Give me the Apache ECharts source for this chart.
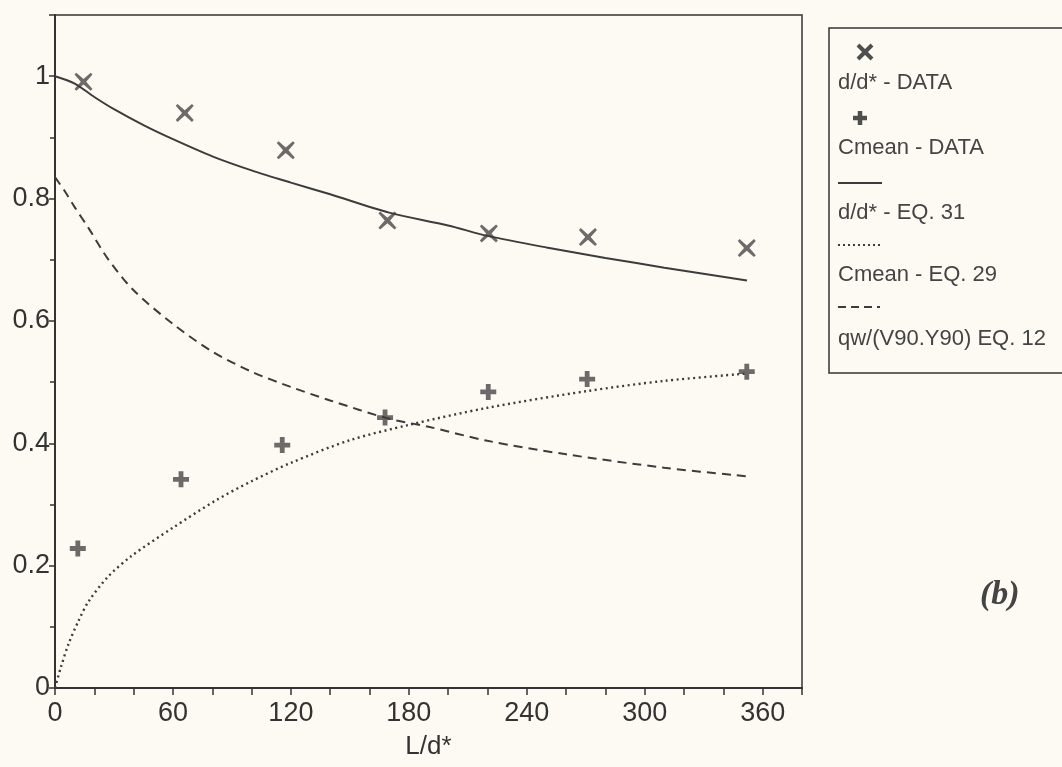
<!DOCTYPE html>
<html><head><meta charset="utf-8">
<script src="https://cdn.jsdelivr.net/npm/echarts@6/dist/echarts.min.js"></script>
<style>html,body{margin:0;padding:0;background:#fcfaf2}#c{width:1062px;height:767px}</style>
</head><body><div id="c"></div>
<script>
// ---- data ----
const ddDataX = [14.5, 66, 117.4, 169.1, 220.7, 271.1, 351.9];
const ddDataY = [0.991, 0.940, 0.879, 0.764, 0.743, 0.737, 0.719];
const cmDataX = [11.6, 64.1, 115.6, 167.9, 220.4, 270.7, 351.9];
const cmDataY = [0.228, 0.341, 0.397, 0.442, 0.484, 0.505, 0.517];
const eq31X = [0, 10, 20, 30, 45, 60, 80, 100, 120, 140, 170, 200, 220, 250, 280, 310, 352];
const eq31Y = [1.0, 0.988, 0.966, 0.946, 0.92, 0.897, 0.869, 0.846, 0.826, 0.807, 0.777, 0.756, 0.739, 0.72, 0.703, 0.687, 0.666];
const eq29X = [0, 3, 7, 12, 17, 27, 39, 60, 82, 100, 120, 150, 180, 220, 270, 310, 352];
const eq29Y = [0, 0.034, 0.073, 0.11, 0.141, 0.182, 0.216, 0.262, 0.307, 0.338, 0.368, 0.405, 0.43, 0.458, 0.485, 0.502, 0.514];
const eq12X = [0, 5, 10, 17, 27, 40, 60, 80, 100, 120, 140, 170, 190, 220, 260, 310, 352];
const eq12Y = [0.835, 0.812, 0.786, 0.752, 0.701, 0.65, 0.595, 0.55, 0.517, 0.492, 0.47, 0.44, 0.427, 0.404, 0.382, 0.36, 0.346];
const legendLabels = ['d/d* - DATA', 'Cmean - DATA', 'd/d* - EQ. 31', 'Cmean - EQ. 29', 'qw/(V90.Y90) EQ. 12'];
const xAxisName = 'L/d*';
const panelTag = '(b)';

const zip = (a, b) => a.map((v, i) => [v, b[i]]);
const INK = '#3c3c3c';
const FONT = '"Liberation Sans", Arial, sans-serif';
const X_MARK = 'path://M2,0 L10,7 L18,0 L20,2 L13,10 L20,18 L18,20 L10,13 L2,20 L0,18 L7,10 L0,2 Z';
const PLUS = 'path://M7,0 H13 V7 H20 V13 H13 V20 H7 V13 H0 V7 H7 Z';

const chart = echarts.init(document.getElementById('c'), null, {renderer: 'canvas'});

const legendTextY = [83, 148, 213, 275, 339];
const lx = 838;
const graphics = [
  {type: 'rect', shape: {x: 829, y: 28, width: 260, height: 345},
   style: {fill: 'none', stroke: '#333', lineWidth: 1.5}},
  // X glyph
  {type: 'line', shape: {x1: 858, y1: 45, x2: 872, y2: 59}, style: {stroke: '#4f4f4f', lineWidth: 4}},
  {type: 'line', shape: {x1: 872, y1: 45, x2: 858, y2: 59}, style: {stroke: '#4f4f4f', lineWidth: 4}},
  // plus glyph
  {type: 'line', shape: {x1: 853, y1: 118, x2: 867, y2: 118}, style: {stroke: '#4f4f4f', lineWidth: 4.5}},
  {type: 'line', shape: {x1: 860, y1: 111, x2: 860, y2: 125}, style: {stroke: '#4f4f4f', lineWidth: 4.5}},
  // line samples
  {type: 'line', shape: {x1: 838, y1: 183, x2: 882, y2: 183}, style: {stroke: INK, lineWidth: 2}},
  {type: 'line', shape: {x1: 838, y1: 245, x2: 883, y2: 245}, style: {stroke: INK, lineWidth: 2.2, lineDash: [2, 3]}},
  {type: 'line', shape: {x1: 838, y1: 307, x2: 880, y2: 307}, style: {stroke: INK, lineWidth: 2, lineDash: [8, 5]}},
  {type: 'text', x: 980, y: 595,
   style: {text: panelTag, font: 'italic bold 34px "Liberation Serif", "Times New Roman", serif',
           fill: '#444', textAlign: 'left', textVerticalAlign: 'middle'}}
];
legendLabels.forEach((t, i) => {
  graphics.push({type: 'text', x: lx, y: legendTextY[i],
    style: {text: t, font: '22px ' + FONT, fill: '#444', textAlign: 'left', textVerticalAlign: 'middle'}});
});

const fmtY = v => (v > 1.05 ? '' : String(Math.round(v * 10) / 10));
const fmtX = v => (v % 60 === 0 ? String(v) : '');

chart.setOption({
  backgroundColor: '#fcfaf2',
  animation: false,
  grid: {left: 55, right: 260, top: 15, bottom: 79, show: true,
         borderColor: '#333', borderWidth: 1.5, backgroundColor: 'transparent'},
  xAxis: [
    {type: 'value', min: 0, max: 380, interval: 60, position: 'bottom',
     name: xAxisName, nameLocation: 'middle', nameGap: 46,
     nameTextStyle: {fontSize: 26, color: '#333', fontFamily: FONT},
     axisLine: {show: true, lineStyle: {color: '#333', width: 2}},
     axisTick: {show: true, inside: false, length: 7, lineStyle: {color: '#333', width: 1.5}},
     axisLabel: {fontSize: 27, color: '#333', fontFamily: FONT, margin: 12, formatter: fmtX},
     splitLine: {show: false}},
    {type: 'value', min: 0, max: 380, interval: 20, position: 'bottom',
     axisLine: {show: false},
     axisTick: {show: true, length: 7, lineStyle: {color: '#333', width: 1.5}},
     axisLabel: {show: false}, splitLine: {show: false}}
  ],
  yAxis: [
    {type: 'value', min: 0, max: 1.1, interval: 0.2, position: 'left',
     axisLine: {show: true, lineStyle: {color: '#333', width: 2}},
     axisTick: {show: true, length: 6, lineStyle: {color: '#333', width: 1.5}},
     axisLabel: {fontSize: 27, color: '#333', fontFamily: FONT, margin: 5, formatter: fmtY},
     splitLine: {show: false}},
    {type: 'value', min: 0, max: 1.1, interval: 0.1, position: 'left',
     axisLine: {show: false},
     axisTick: {show: true, length: 5, lineStyle: {color: '#333', width: 1.5}},
     axisLabel: {show: false}, splitLine: {show: false}}
  ],
  series: [
    {name: legendLabels[2], type: 'line', data: zip(eq31X, eq31Y), showSymbol: false, smooth: 0.3,
     lineStyle: {color: INK, width: 2}},
    {name: legendLabels[3], type: 'line', data: zip(eq29X, eq29Y), showSymbol: false, smooth: 0.3,
     lineStyle: {color: INK, width: 2.4, type: [2, 3.5]}},
    {name: legendLabels[4], type: 'line', data: zip(eq12X, eq12Y), showSymbol: false, smooth: 0.3,
     lineStyle: {color: INK, width: 2, type: [9, 6]}},
    {name: legendLabels[0], type: 'scatter', data: zip(ddDataX, ddDataY), symbol: X_MARK, symbolSize: 18,
     itemStyle: {color: '#474747'}},
    {name: legendLabels[1], type: 'scatter', data: zip(cmDataX, cmDataY), symbol: PLUS, symbolSize: 16,
     itemStyle: {color: '#474747'}}
  ],
  graphic: graphics
});
</script></body></html>
